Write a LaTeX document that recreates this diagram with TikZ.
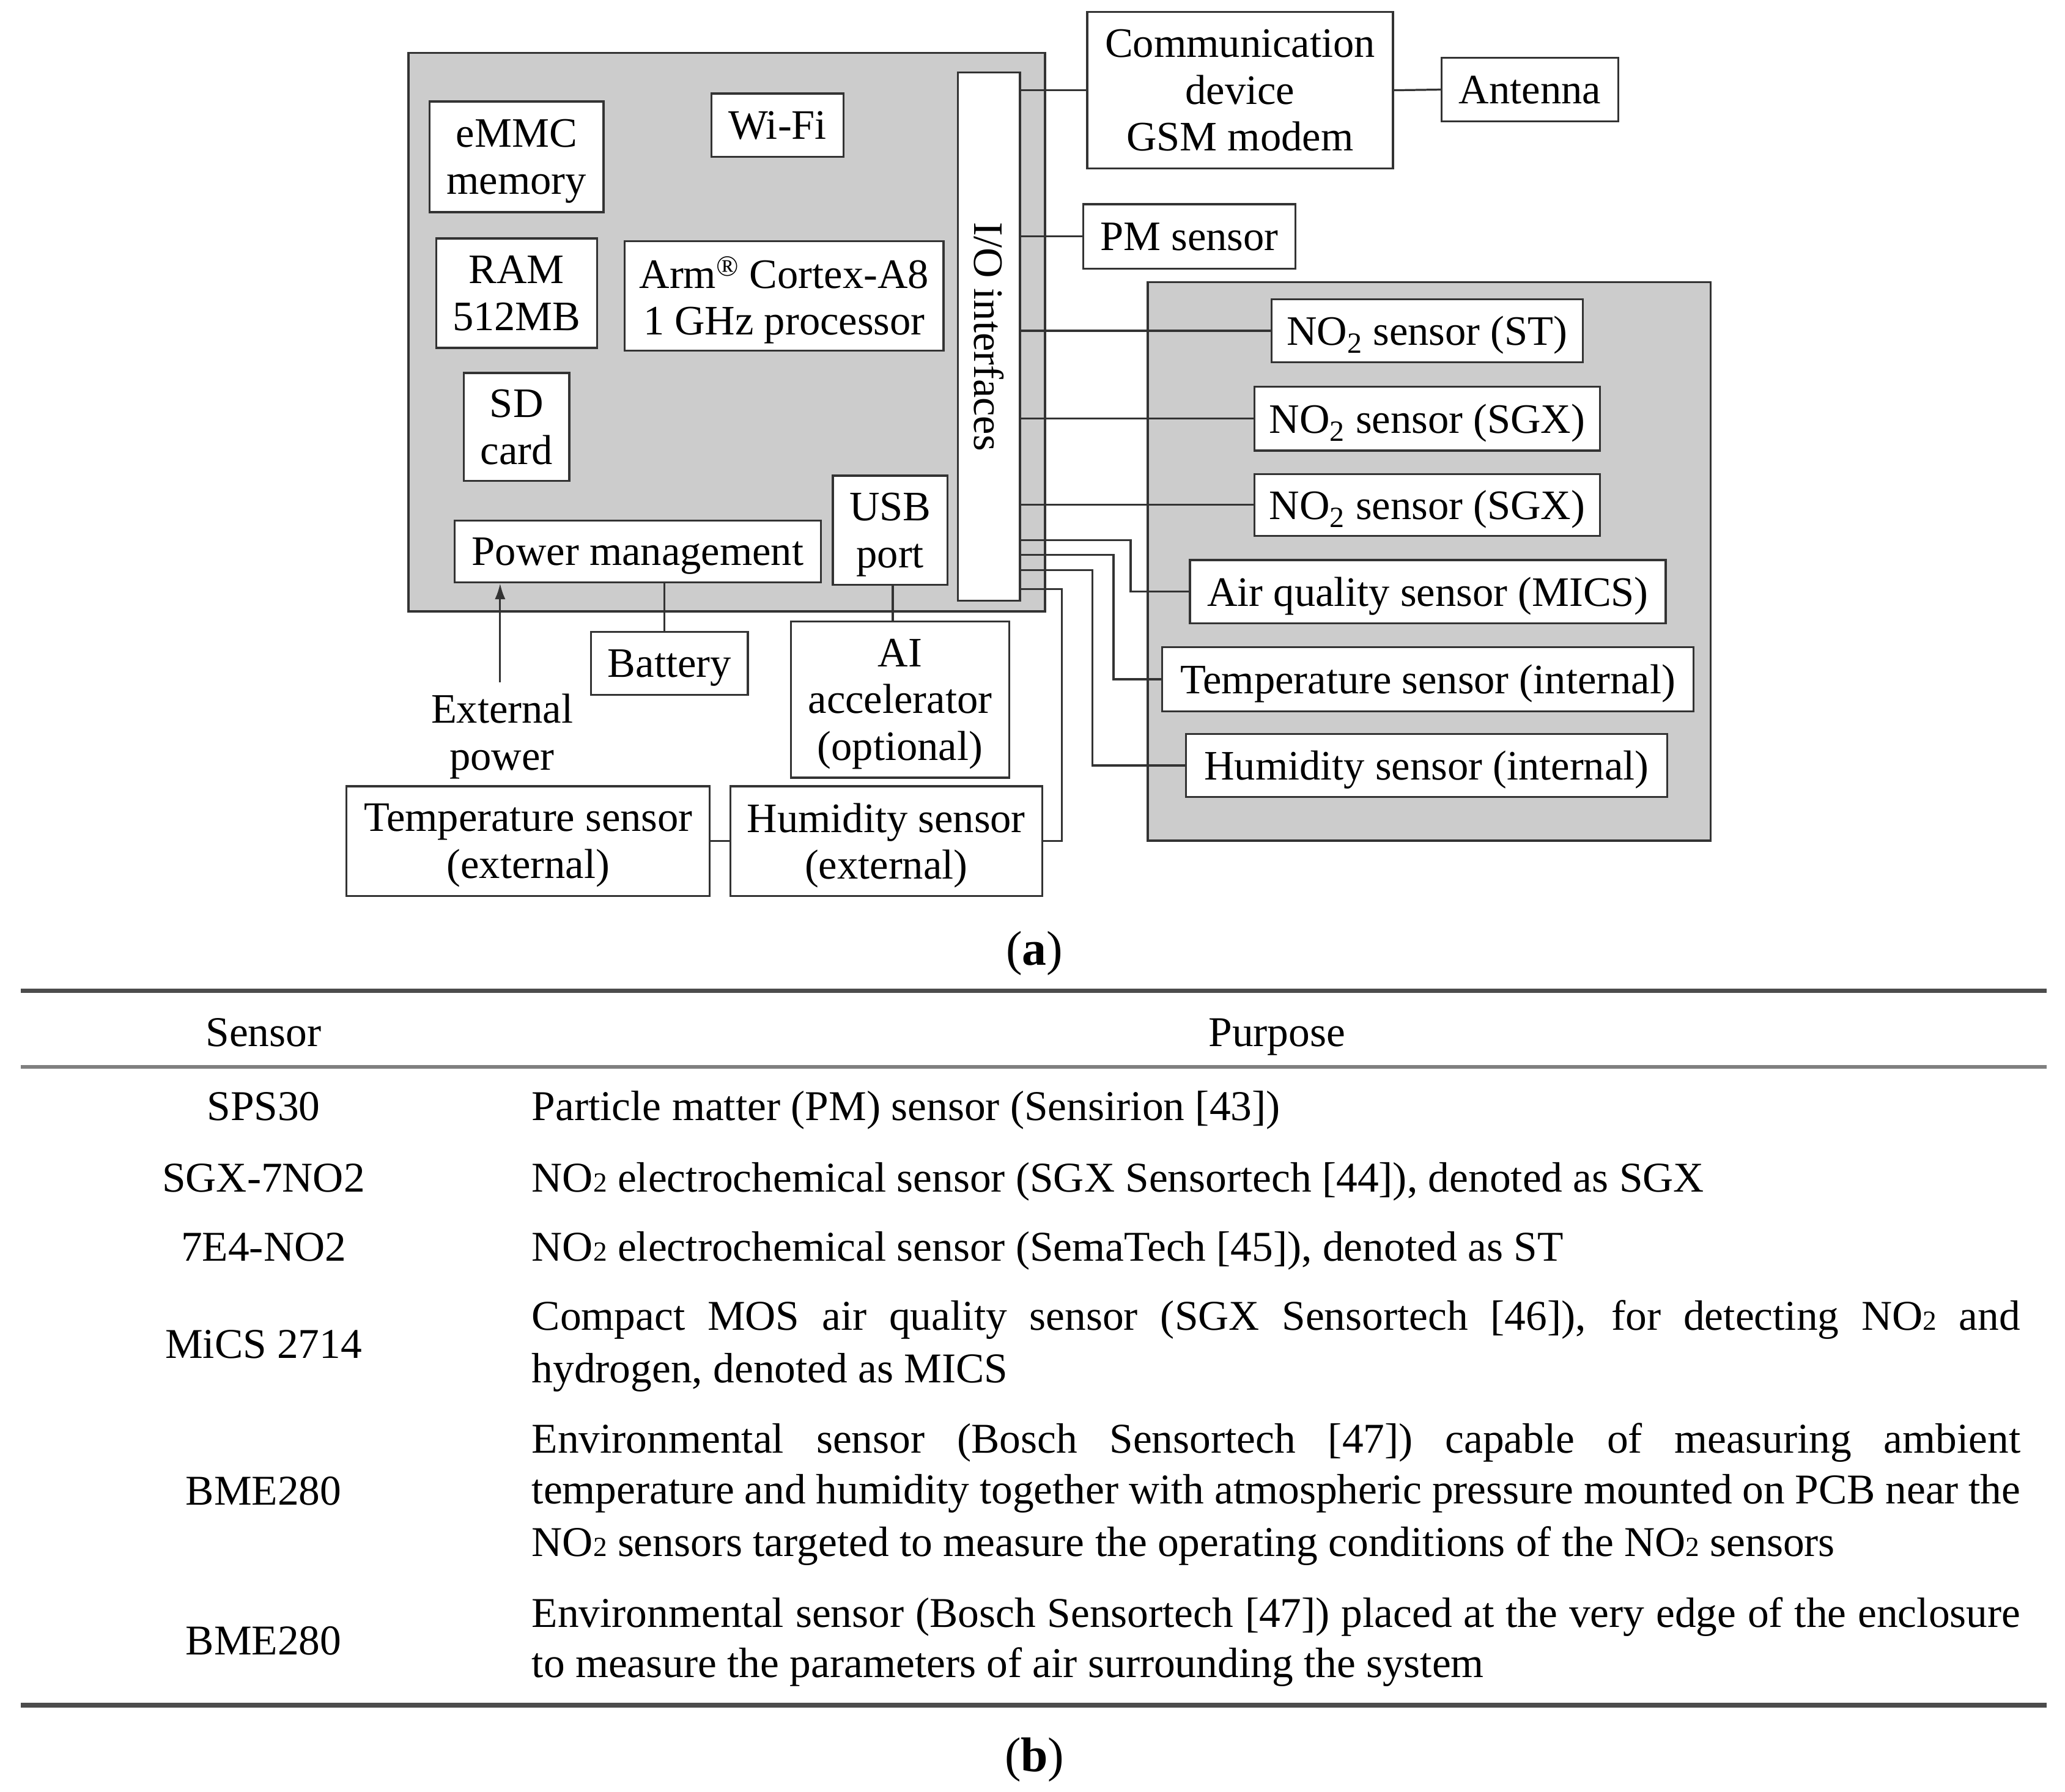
\documentclass[tikz,border=0pt]{standalone}
\usepackage{fontspec}
\setmainfont{Liberation Serif}
\usetikzlibrary{arrows.meta}
\newcommand{\diafont}{\fontsize{31.8}{35.5}\selectfont}
\newcommand{\tabfont}{\fontsize{32.2}{39.5}\selectfont}
\newcommand{\labfont}{\fontsize{37}{40}\selectfont}
\newcommand{\tabsub}{{\fontsize{21}{21}\selectfont 2}}
\newcommand{\justline}[1]{\makebox[1129.6pt][s]{#1}}
\begin{document}
\begin{tikzpicture}[x=1pt,y=-1pt,
  blk/.style={draw=black!80, line width=1.5pt, fill=white, inner sep=0pt, align=center, font=\diafont, text depth=0pt},
  grp/.style={draw=black!80, line width=1.5pt, fill=black!20, inner sep=0pt},
  wire/.style={draw=black!80, line width=1.5pt},
  trow/.style={anchor=base, font=\tabfont, inner sep=0pt},
  trowl/.style={anchor=base west, font=\tabfont, inner sep=0pt},
  toprule/.style={draw=black!70, line width=3.2pt},
  midrule/.style={draw=black!50, line width=2.4pt},
  botrule/.style={draw=black!70, line width=3.6pt}
]
\useasboundingbox (0,0) rectangle (1567,1359.6);

% groups
\node[grp, minimum width=483pt, minimum height=424pt] (main) at (551.5,252) {};
\node[grp, minimum width=427pt, minimum height=424pt] (sgrp) at (1084.5,426) {};

% blocks
\node[blk, minimum width=132pt, minimum height=84pt] (emmc) at (392,119) {eMMC\\memory};
\node[blk, minimum width=100pt, minimum height=48pt] (wifi) at (590,95) {Wi-Fi};
\node[blk, minimum width=122pt, minimum height=83pt] (ram) at (392,222.5) {RAM\\512MB};
\node[blk, minimum width=242pt, minimum height=83pt] (arm) at (595,224.5) {Arm\textsuperscript{®} Cortex-A8\\1 GHz processor};
\node[blk, minimum width=80pt, minimum height=82pt] (sd) at (392,324) {SD\\card};
\node[blk, minimum width=278pt, minimum height=47pt] (power) at (484,418.5) {Power management};
\node[blk, minimum width=87pt, minimum height=83pt] (usb) at (675.5,402.5) {USB\\port};
\node[blk, minimum width=47pt, minimum height=401pt] (io) at (750.5,255.5) {};
\node[rotate=-90, font=\diafont, inner sep=0pt] (iotext) at (io.center) {I/O interfaces};
\node[blk, minimum width=232pt, minimum height=119pt] (comm) at (941,68.5) {Communication\\device\\GSM modem};
\node[blk, minimum width=134pt, minimum height=48pt] (ant) at (1161,68) {Antenna};
\node[blk, minimum width=161pt, minimum height=49pt] (pm) at (902.5,179.5) {PM sensor};
\node[blk, minimum width=236pt, minimum height=48pt] (st) at (1083,251) {NO\textsubscript{2} sensor (ST)};
\node[blk, minimum width=262pt, minimum height=48.5pt] (sgxa) at (1083,317.7) {NO\textsubscript{2} sensor (SGX)};
\node[blk, minimum width=262pt, minimum height=47pt] (sgxb) at (1083,383.2) {NO\textsubscript{2} sensor (SGX)};
\node[blk, minimum width=361pt, minimum height=48pt] (mics) at (1083.5,449) {Air quality sensor (MICS)};
\node[blk, minimum width=403pt, minimum height=49pt] (tint) at (1083.5,515.5) {Temperature sensor (internal)};
\node[blk, minimum width=365pt, minimum height=48pt] (hint) at (1082.5,581) {Humidity sensor (internal)};
\node[blk, minimum width=119pt, minimum height=48pt] (bat) at (508,503.4) {Battery};
\node[blk, minimum width=165.5pt, minimum height=118.5pt] (ai) at (683,531) {AI\\accelerator\\(optional)};
\node[font=\diafont, align=center, inner sep=0pt] (ext) at (381,559) {External\\power};
\node[blk, minimum width=275.6pt, minimum height=83.4pt] (tmpext) at (400.8,638.4) {Temperature sensor\\(external)};
\node[blk, minimum width=236.5pt, minimum height=83.4pt] (hext) at (672.5,638.4) {Humidity sensor\\(external)};

% connectors
\draw[wire] (io.east |- comm.west) -- (comm.west);
\draw[wire] (comm.east) -- (ant.west);
\draw[wire] (io.east |- pm.west) -- (pm.west);
\draw[wire] (io.east |- st.west) -- (st.west);
\draw[wire] (io.east |- sgxa.west) -- (sgxa.west);
\draw[wire] (io.east |- sgxb.west) -- (sgxb.west);
\draw[wire] (io.east |- 0,410) -- (858,410) |- (mics.west);
\draw[wire] (io.east |- 0,421.2) -- (845,421.2) |- (tint.west);
\draw[wire] (io.east |- 0,432.6) -- (829,432.6) |- (hint.west);
\draw[wire] (io.east |- 0,447) -- (805.6,447) |- (hext.east);
\draw[wire] (tmpext.east) -- (hext.west);
\coordinate (batx) at (504,0);
\draw[wire] (power.south -| batx) -- (bat.north -| batx);
\coordinate (usbx) at (677.5,0);
\draw[wire] (usb.south -| usbx) -- (ai.north -| usbx);
\coordinate (epstart) at (379.5,518);
\draw[wire, -{Latex[length=12pt,width=8pt]}] (epstart) -- (power.south -| epstart);

% labels
\node[font=\labfont, anchor=base, inner sep=0pt] (laba) at (785,732.4) {(\textbf{a})};
\node[font=\labfont, anchor=base, inner sep=0pt] (labb) at (785,1344.5) {(\textbf{b})};

% table rules
\draw[toprule] (16,752) -- (1553,752);
\draw[midrule] (16,809.7) -- (1553,809.7);
\draw[botrule] (16,1294) -- (1553,1294);

% table text
\node[trow] (c1h) at (200,794) {Sensor};
\node[trow] (c2h) at (969,794) {Purpose};
\node[trow] (s1) at (200,850.3) {SPS30};
\node[trowl] (p1) at (403.4,850.3) {Particle matter (PM) sensor (Sensirion [43])};
\node[trow] (s2) at (200,904.4) {SGX-7NO2};
\node[trowl] (p2) at (403.4,904.4) {NO\tabsub{} electrochemical sensor (SGX Sensortech [44]), denoted as SGX};
\node[trow] (s3) at (200,957.1) {7E4-NO2};
\node[trowl] (p3) at (403.4,957.1) {NO\tabsub{} electrochemical sensor (SemaTech [45]), denoted as ST};
\node[trow] (s4) at (200,1030.8) {MiCS 2714};
\node[trowl] (p4a) at (403.4,1009.5) {\justline{Compact MOS air quality sensor (SGX Sensortech [46]), for detecting NO\tabsub{} and}};
\node[trowl] (p4b) at (403.4,1049.4) {hydrogen, denoted as MICS};
\node[trow] (s5) at (200,1142.1) {BME280};
\node[trowl] (p5a) at (403.4,1102.7) {\justline{Environmental sensor (Bosch Sensortech [47]) capable of measuring ambient}};
\node[trowl] (p5b) at (403.4,1141.2) {\justline{temperature and humidity together with atmospheric pressure mounted on PCB near the}};
\node[trowl] (p5c) at (403.4,1181.1) {NO\tabsub{} sensors targeted to measure the operating conditions of the NO\tabsub{} sensors};
\node[trow] (s6) at (200,1255.7) {BME280};
\node[trowl] (p6a) at (403.4,1235) {\justline{Environmental sensor (Bosch Sensortech [47]) placed at the very edge of the enclosure}};
\node[trowl] (p6b) at (403.4,1272.9) {to measure the parameters of air surrounding the system};
\end{tikzpicture}
\end{document}
